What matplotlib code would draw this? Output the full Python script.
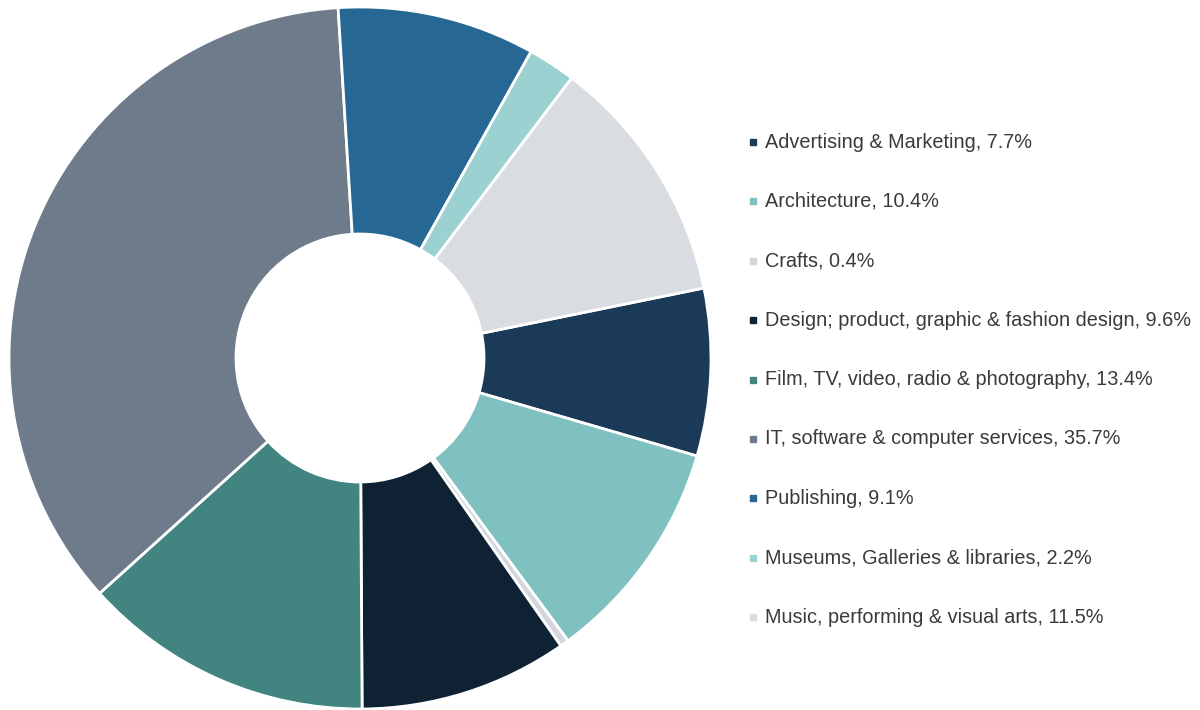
import matplotlib
matplotlib.use("Agg")
import matplotlib.pyplot as plt
from matplotlib.lines import Line2D

categories = [
    "Advertising & Marketing",
    "Architecture",
    "Crafts",
    "Design; product, graphic & fashion design",
    "Film, TV, video, radio & photography",
    "IT, software & computer services",
    "Publishing",
    "Museums, Galleries & libraries",
    "Music, performing & visual arts",
]
shares = [7.7, 10.4, 0.4, 9.6, 13.4, 35.7, 9.1, 2.2, 11.5]
colors = [
    "#1b3a57", "#7fc1c0", "#d3d6db", "#0f2234", "#428580",
    "#6d7b8b", "#266794", "#9bd1d0", "#d9dce1",
]

W, H = 1200, 710
fig = plt.figure(figsize=(W / 100, H / 100), dpi=100)
fig.patch.set_facecolor("white")

# donut: centre (360, 358) px from top-left, outer radius 351 px, hole radius 124 px
cx, cy, R, r_in = 360, 358, 351, 124
ax = fig.add_axes([(cx - R) / W, (H - cy - R) / H, 2 * R / W, 2 * R / H])
ax.pie(
    shares,
    colors=colors,
    startangle=11.5,
    counterclock=False,
    radius=1.0,
    wedgeprops=dict(width=(R - r_in) / R, edgecolor="white", linewidth=2),
)
ax.set_xlim(-1, 1)
ax.set_ylim(-1, 1)
ax.set_aspect("equal")
ax.axis("off")

# legend column
y0, dy = 142, 59.4
for i, (name, val, col) in enumerate(zip(categories, shares, colors)):
    y = 1 - (y0 + i * dy) / H
    fig.add_artist(Line2D([753 / W], [y], marker="s", markersize=5,
                          color=col, linestyle="none", transform=fig.transFigure))
    fig.text(765 / W, y, f"{name}, {val}%", fontsize=14.3,
             family=["Liberation Sans", "DejaVu Sans"], color="#3a3a3a",
             va="center", ha="left")

fig.savefig("out.png", dpi=100, facecolor="white")
